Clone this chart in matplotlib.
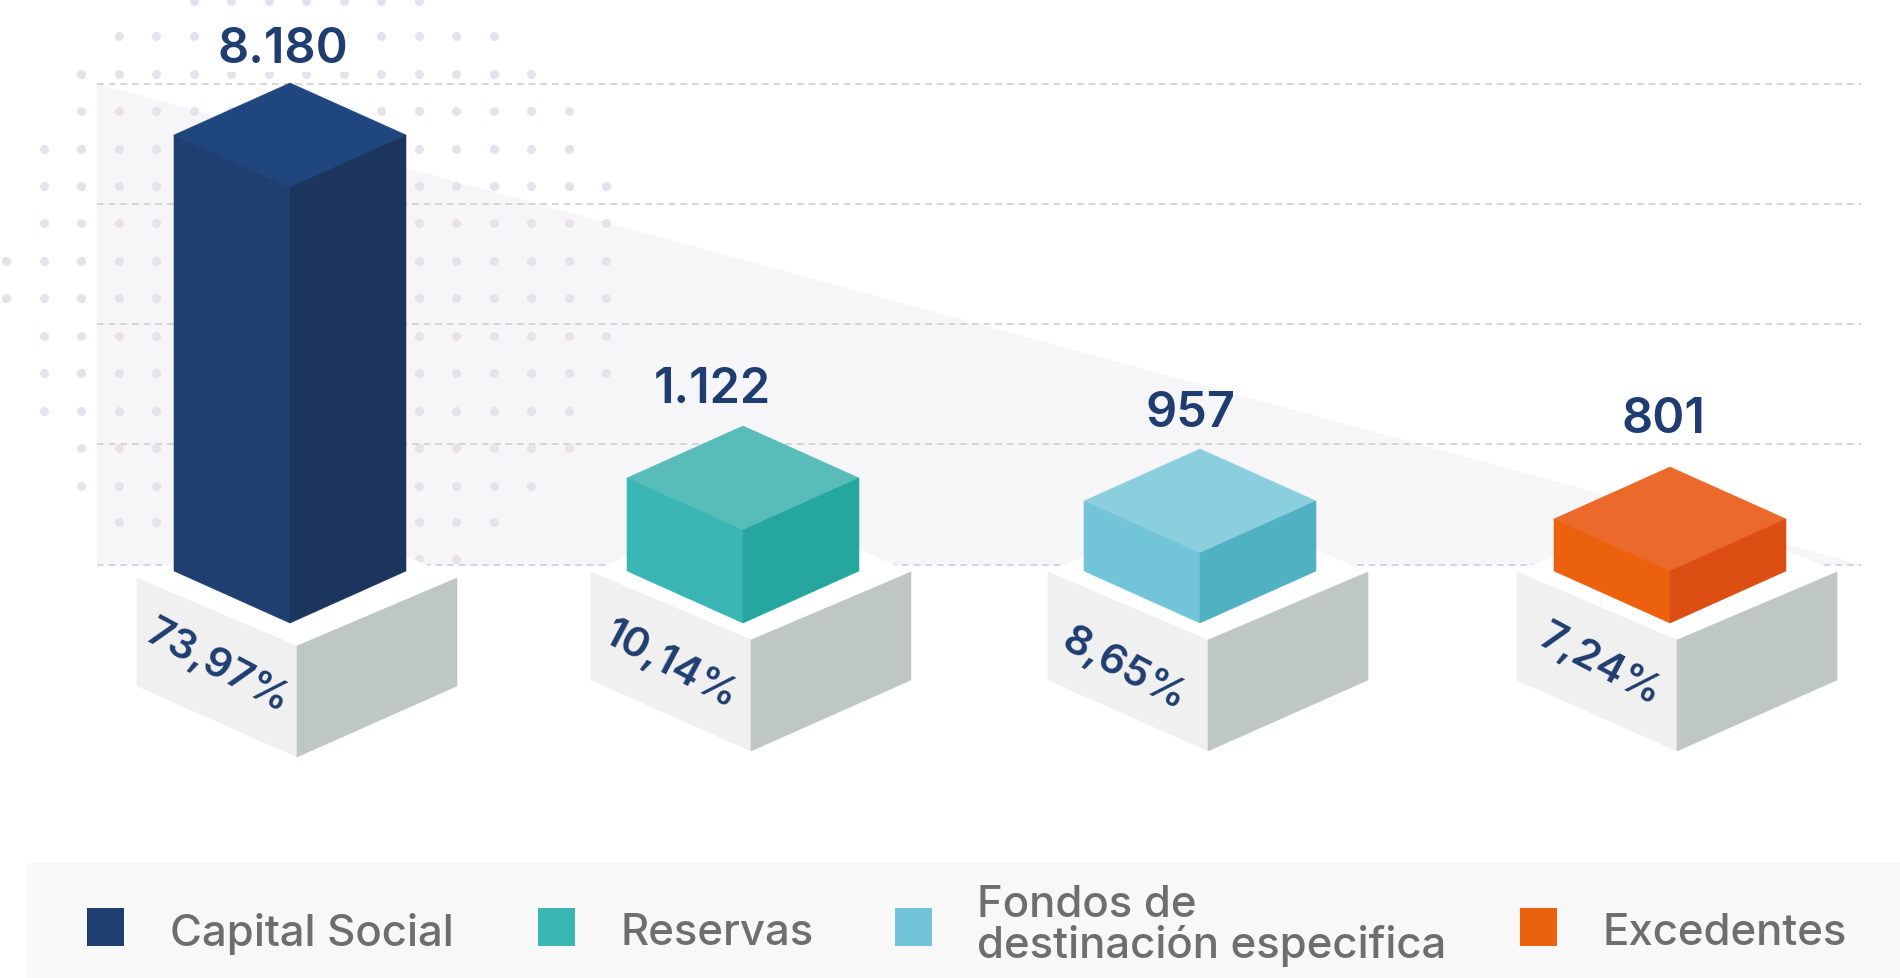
#!/usr/bin/env python3
import numpy as np
import matplotlib
matplotlib.use('Agg')  # headless
import matplotlib.pyplot as plt
from matplotlib.patches import Polygon, Rectangle

plt.rcParams['font.family'] = ['Inter', 'DejaVu Sans']

# data
categories = ['Capital Social', 'Reservas', 'Fondos de\ndestinación especifica', 'Excedentes']
values = [8180, 1122, 957, 801]
value_labels = ['8.180', '1.122', '957', '801']
percent_labels = ['73,97%', '10,14%', '8,65%', '7,24%']

# the bars of the original are not drawn to a linear scale: value -> pixels
scale_values = [0, 801, 957, 1122, 8180]
scale_pixels = [0, 52, 70, 93, 436]

# colours: top, left, right
BAR_COLORS = [
    ('#1f467f', '#1f3f70', '#1b355f'),
    ('#58bdb9', '#3ab7b5', '#25a79f'),
    ('#8bcfdf', '#72c5d8', '#50b1c2'),
    ('#ea692b', '#ec610d', '#dc4e12'),
]
NAVY = '#1f3d70'
GREY_TEXT = '#6d6e70'

# layout, in pixels of the 1900x979 picture
BAR_X = [290, 743, 1200, 1670]
BAR_BOTTOM = 624
BAR_HW, BAR_HD = 116, 52
PED_X = [297, 751, 1208, 1677]
PED_SIDE_TOP = [579, 573, 573, 573]
PED_HW, PED_HD, PED_H = 160, 68, 108
GRID_Y = [85, 205, 325, 445, 566]

# dot pattern: row y -> first and last column
DOT_ROWS = [(2, 5, 11), (37, 3, 13), (75, 2, 14), (112, 2, 15), (150, 1, 15), (187, 1, 16),
            (224, 1, 16), (262, 0, 16), (299, 0, 16), (337, 1, 16), (374, 1, 16), (412, 1, 15),
            (449, 2, 15), (487, 2, 14), (523, 3, 13), (560, 11, 12)]

fig = plt.figure(figsize=(19, 9.79), dpi=100)
ax = fig.add_axes([0, 0, 1, 1])
ax.set_xlim(0, 1900)
ax.set_ylim(979, 0)
ax.axis('off')


def face(pts, color, z):
    # thin same-colour edge hides the seams between faces
    ax.add_patch(Polygon(pts, closed=True, facecolor=color, edgecolor=color, linewidth=0.4, zorder=z))


# ---- background wedge, grid, dots ----
face([(97, GRID_Y[0]), (1861, GRID_Y[-1]), (97, GRID_Y[-1])], '#f6f6f8', 1)
ax.hlines(GRID_Y, 97, 1861, colors='#cfcfcf', linewidth=1.2, linestyles=(0, (4, 3)), zorder=2)

dot_x, dot_y = [], []
for y, c0, c1 in DOT_ROWS:
    for c in range(c0, c1 + 1):
        dot_x.append(6 + 37.5 * c)
        dot_y.append(y)
ax.scatter(dot_x, dot_y, s=42, color='#e6e1ea', linewidths=0, zorder=3)

# ---- pedestals ----
for cx, top in zip(PED_X, PED_SIDE_TOP):
    left, right = cx - PED_HW, cx + PED_HW
    mid = top + PED_HD
    face([(left, top), (cx, top - PED_HD), (right, top), (cx, mid)], 'white', 4)
    face([(left, top), (cx, mid), (cx, mid + PED_H + 3), (left, top + PED_H)], '#f0f0f0', 5)
    face([(right, top), (cx, mid), (cx, mid + PED_H + 3), (right, top + PED_H)], '#bec6c6', 5)

# ---- bars ----
heights = np.interp(values, scale_values, scale_pixels)
for cx, h, (c_top, c_left, c_right) in zip(BAR_X, heights, BAR_COLORS):
    front_top = BAR_BOTTOM - h
    side_top = front_top - BAR_HD
    side_bot = BAR_BOTTOM - BAR_HD
    face([(cx - BAR_HW, side_top), (cx, side_top - BAR_HD), (cx + BAR_HW, side_top), (cx, front_top)], c_top, 6)
    face([(cx - BAR_HW, side_top), (cx, front_top), (cx, BAR_BOTTOM), (cx - BAR_HW, side_bot)], c_left, 6)
    face([(cx + BAR_HW, side_top), (cx, front_top), (cx, BAR_BOTTOM), (cx + BAR_HW, side_bot)], c_right, 6)

# ---- labels ----
for x, y, s in zip([283, 712, 1190, 1663], [50, 390, 414, 420], value_labels):
    ax.text(x, y, s, ha='center', va='center', fontsize=35, fontweight='semibold', color=NAVY, zorder=7,
            bbox=dict(facecolor='white', edgecolor='none', pad=0) if s == '8.180' else None)
for x, y, s in zip([217, 670, 1124, 1600], [667, 665, 670, 665], percent_labels):
    ax.text(x, y, s, ha='center', va='center', rotation=-28, rotation_mode='anchor', fontsize=30,
            fontweight='semibold', color=NAVY, zorder=7)

# ---- legend ----
ax.add_patch(Rectangle((27, 864), 1873, 115, facecolor='#f8f8f8', edgecolor='none', zorder=1))
for x, color in zip([87, 538, 895, 1520], ['#1f3f70', '#3ab7b5', '#72c5d8', '#ec610d']):
    ax.add_patch(Rectangle((x, 909), 37, 38, facecolor=color, edgecolor='none', zorder=2))
for x, y, s in zip([170, 620, 977, 1602], [934, 934, 926, 934], categories):
    ax.text(x, y, s, ha='left', va='center', fontsize=31.5, fontweight='medium', color=GREY_TEXT,
            linespacing=0.97, zorder=3)

fig.savefig('out.png', dpi=100, facecolor='white')
plt.close()
